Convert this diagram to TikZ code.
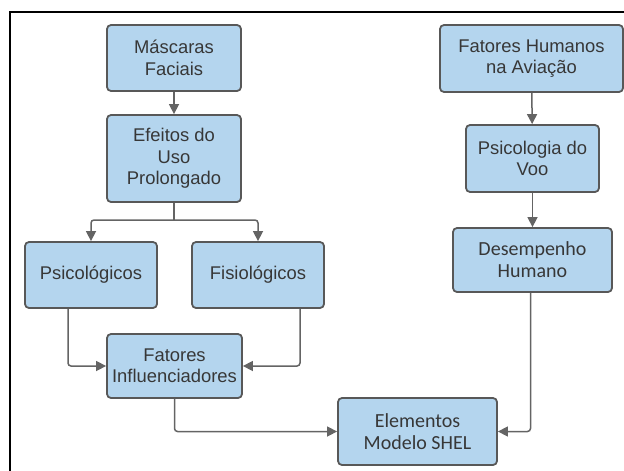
\documentclass[tikz,border=0pt]{standalone}
\usepackage{fontspec}
\setmainfont{Liberation Sans}
\newfontfamily\calib{Carlito}
\usepackage{xcolor}
\usetikzlibrary{positioning, arrows.meta}
\definecolor{boxfill}{RGB}{180,213,238}
\definecolor{boxline}{RGB}{88,88,88}
\definecolor{txtgray}{RGB}{55,55,55}
\definecolor{arrgray}{RGB}{100,100,100}

\begin{document}
\begin{tikzpicture}[x=1pt, y=-1pt,
    box/.style={draw=boxline, line width=1.8pt, fill=boxfill, rounded corners=4pt,
        align=center, text=txtgray, font=\fontsize{18.4}{21.5}\selectfont, inner sep=0pt},
    conn/.style={draw=arrgray, line width=1.5pt, rounded corners=3pt,
        -{Triangle[length=10pt,width=10pt]}}]
    \useasboundingbox (0,0) rectangle (624,471);
    % Outer frame (open to the right and bottom)
    \draw[line width=1.8pt] (624,12) -- (10,12) -- (10,471);

    % Left branch boxes
    \node[box, minimum width=134pt, minimum height=66pt] (masc) at (174,58) {Máscaras\\Faciais};
    \node[box, minimum width=134pt, minimum height=87pt] (efeit) at (174,158.5) {Efeitos do\\Uso\\Prolongado};
    \node[box, minimum width=132pt, minimum height=66pt] (psic) at (91,275) {Psicológicos};
    \node[box, minimum width=132pt, minimum height=66pt] (fisio) at (258,275) {Fisiológicos};
    \node[box, minimum width=135pt, minimum height=64pt] (fator) at (174.5,366) {Fatores\\Influenciadores};

    % Right branch boxes
    \node[box, minimum width=183pt, minimum height=67pt] (fhum) at (531.5,58.5) {Fatores Humanos\\na Aviação};
    \node[box, minimum width=133pt, minimum height=67pt] (psivoo) at (532.5,158.5) {Psicologia do\\Voo};
    \node[box, minimum width=159pt, minimum height=64pt, font=\calib\fontsize{20}{22}\selectfont] (desemp) at (532.5,260) {Desempenho\\Humano};

    % Bottom box
    \node[box, minimum width=159pt, minimum height=67pt, font=\calib\fontsize{20}{22}\selectfont] (elem) at (417.5,431.5) {Elementos\\Modelo SHEL};

    % Connectors
    \coordinate (split) at (174,220);
    \draw[conn] (masc) -- (efeit);
    \draw[draw=arrgray, line width=1.5pt] (efeit) -- (split);
    \draw[conn] (split) -| (psic);
    \draw[conn] (split) -| (fisio);
    \draw[conn] ([xshift=-23pt]psic.south) |- (fator.west);
    \draw[conn] ([xshift=42pt]fisio.south) |- (fator.east);
    \draw[conn] (fator.south) |- (elem.west);
    \draw[conn] (fhum) -- (psivoo);
    \draw[conn] (psivoo) -- (desemp);
    \draw[conn] ([xshift=-2pt]desemp.south) |- (elem.east);
\end{tikzpicture}
\end{document}
